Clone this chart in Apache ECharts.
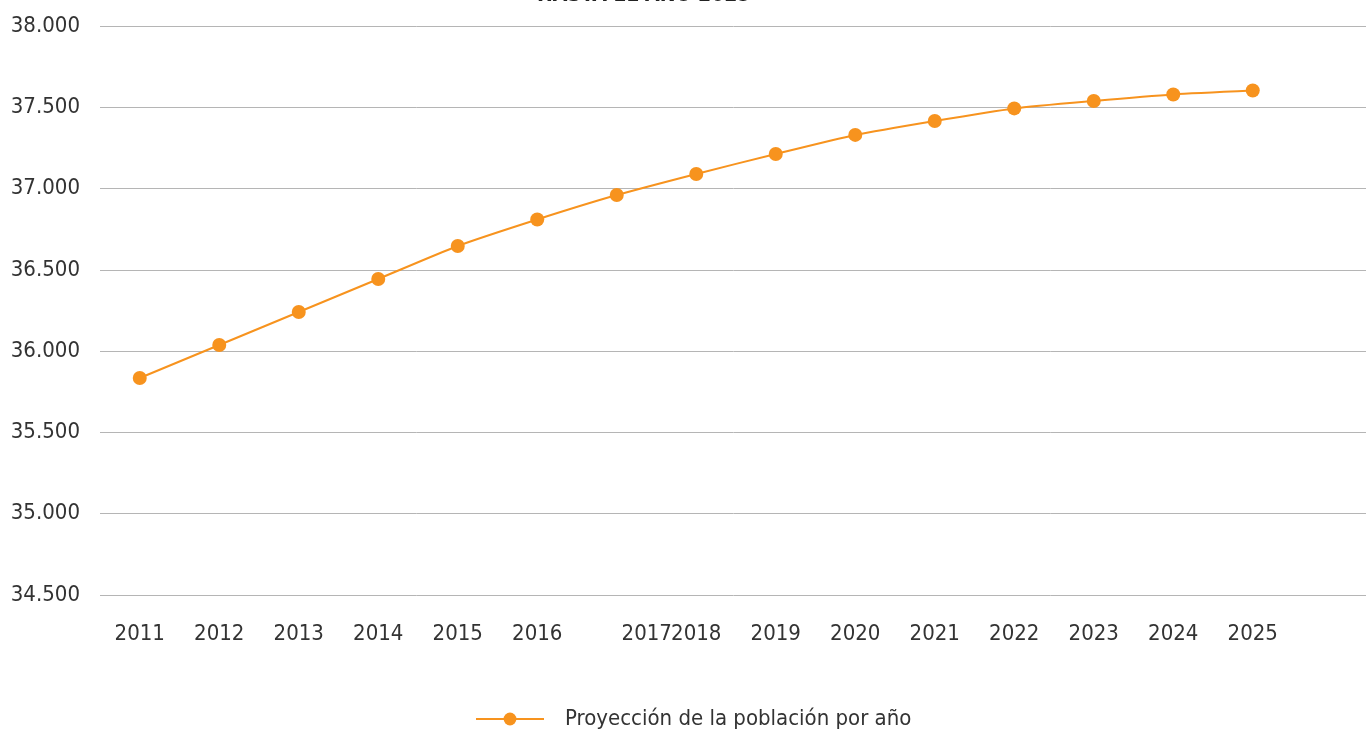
<!DOCTYPE html>
<html>
<head>
<meta charset="utf-8">
<style>
  html, body { margin: 0; padding: 0; background: #fff; }
  #chart { width: 1366px; height: 733px; }
</style>
<script src="https://cdn.jsdelivr.net/npm/echarts@6/dist/echarts.min.js"></script>
</head>
<body>
<div id="chart"></div>
<script>
  // datos
  var years = ['2011', '2012', '2013', '2014', '2015', '2016', '2017', '2018', '2019', '2020', '2021', '2022', '2023', '2024', '2025', '']
  var poblacion = [35835, 36038, 36241, 36444, 36647, 36810, 36960, 37090, 37213, 37330, 37416, 37493, 37539, 37579, 37603]
  var serieName = 'Proyección de la población por año'
  var titulo = 'HASTA EL AÑO 2025'

  var font = '"Liberation Sans Narrow", "DejaVu Sans Condensed", "Roboto", sans-serif'
  var naranja = '#F7931E'

  var chart = echarts.init(document.getElementById('chart'))
  chart.setOption({
    title: {
      text: titulo,
      left: 532,
      top: -20,
      textStyle: {
        fontSize: 21,
        fontWeight: 'bold',
        fontFamily: font,
        color: '#222'
      }
    },
    grid: {
      left: 100,
      width: 1272,
      top: 26,
      bottom: 138,
      outerBoundsMode: 'none'
    },
    legend: {
      bottom: -2,
      left: 470,
      itemWidth: 68,
      itemHeight: 16,
      itemGap: 20,
      textStyle: {
        fontSize: 22,
        fontFamily: font,
        color: '#333',
        padding: [0, 0, 0, 16]
      },
      data: [serieName]
    },
    xAxis: {
      type: 'category',
      data: years,
      boundaryGap: true,
      axisLine: {show: false},
      axisTick: {show: false},
      axisLabel: {
        margin: 28,
        fontSize: 22,
        fontFamily: font,
        color: '#333',
        interval: 0,
        formatter: function (v) {
          // la etiqueta 2017 aparece desplazada en el original
          return v === '2017' ? '{d|' + v + '}' : v
        },
        rich: {
          d: {
            fontSize: 22,
            fontFamily: font,
            color: '#333',
            padding: [0, 0, 0, 60]
          }
        }
      }
    },
    yAxis: {
      type: 'value',
      min: 34500,
      max: 38000,
      interval: 500,
      axisLine: {show: false},
      axisTick: {show: false},
      splitLine: {
        show: true,
        lineStyle: {color: '#b5b5b5', width: 1}
      },
      axisLabel: {
        margin: 20,
        fontSize: 22,
        fontFamily: font,
        color: '#333',
        formatter: function (v) {
          return String(v).replace(/\B(?=(\d{3})+(?!\d))/g, '.')
        }
      }
    },
    series: [
      {
        name: serieName,
        type: 'line',
        data: poblacion,
        smooth: 0.2,
        symbol: 'circle',
        symbolSize: 14,
        itemStyle: {color: naranja},
        lineStyle: {color: naranja, width: 2}
      }
    ]
  })
</script>
</body>
</html>
